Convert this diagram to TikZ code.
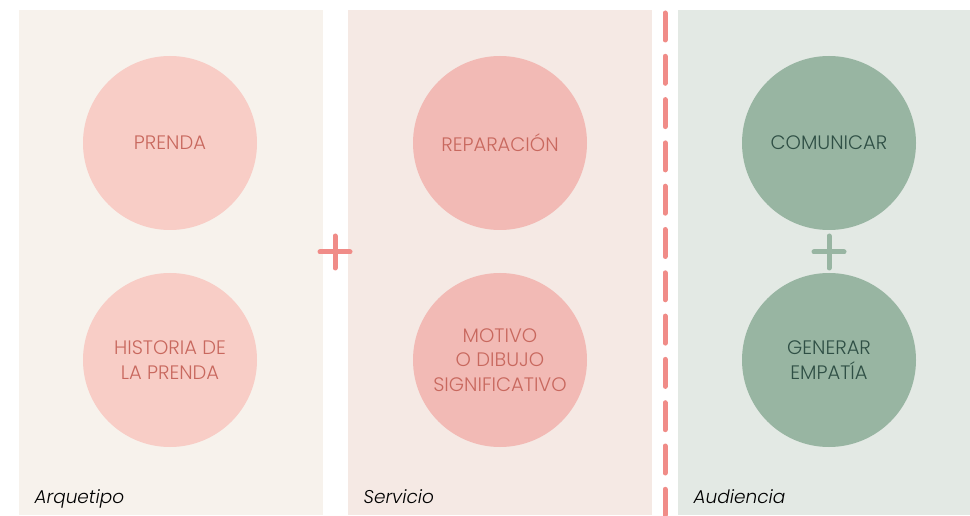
\documentclass[tikz,border=0pt]{standalone}
\usepackage{fontspec}
\setmainfont{Poppins}[UprightFont=* Light, ItalicFont=* Light Italic]
\usepackage{xcolor}
\usetikzlibrary{positioning}
\definecolor{bgA}{HTML}{F7F2EC}
\definecolor{bgB}{HTML}{F5E9E4}
\definecolor{bgC}{HTML}{E3E9E4}
\definecolor{circA}{HTML}{F8CDC6}
\definecolor{circB}{HTML}{F2BAB5}
\definecolor{circC}{HTML}{98B5A2}
\definecolor{txtRed}{HTML}{C8685E}
\definecolor{txtGreen}{HTML}{2F4F45}
\definecolor{dashRed}{HTML}{F08C88}
\definecolor{plusGreen}{HTML}{98B5A2}
\begin{document}
\begin{tikzpicture}[x=1pt,y=1pt,node distance=217pt,on grid,
  panel/.style={anchor=south west,inner sep=0pt,minimum height=505pt},
  bubble/.style={circle,minimum size=174pt,inner sep=0pt,align=center,
    font=\fontsize{19.5}{24.5}\selectfont},
  bubA/.style={bubble,fill=circA,text=txtRed},
  bubB/.style={bubble,fill=circB,text=txtRed},
  bubC/.style={bubble,fill=circC,text=txtGreen},
  tag/.style={anchor=base west,font=\fontsize{18.5}{20}\selectfont\itshape},
  plusline/.style={line width=5pt,line cap=round}]
  \useasboundingbox (0,0) rectangle (970,515);
  % columns
  \node[panel,fill=bgA,minimum width=304pt] (colA) at (19,0) {};
  \node[panel,fill=bgB,minimum width=304pt] (colB) at (348,0) {};
  \node[panel,fill=bgC,minimum width=292pt] (colC) at (678,0) {};
  % circles
  \node[bubA] (prenda) at (170,372) {PRENDA};
  \node[bubA] (historia) [below=of prenda] {HISTORIA DE\\LA PRENDA};
  \node[bubB] (reparacion) [right=330pt of prenda] {REPARACIÓN};
  \node[bubB] (motivo) [below=of reparacion] {MOTIVO\\O DIBUJO\\SIGNIFICATIVO};
  \node[bubC] (comunicar) [right=329pt of reparacion] {COMUNICAR};
  \node[bubC] (empatia) [below=of comunicar] {GENERAR\\EMPATÍA};
  % labels
  \node[tag] (tagA) at (31,12) {Arquetipo};
  \node[tag] (tagB) at (360,12) {Servicio};
  \node[tag] (tagC) at (690,12) {Audiencia};
  % plus signs
  \coordinate (plusA) at (335,263);
  \coordinate (plusB) at (829,263);
  \draw[plusline,dashRed] ([xshift=-15pt]plusA) -- ([xshift=15pt]plusA);
  \draw[plusline,dashRed] ([yshift=-16pt]plusA) -- ([yshift=16pt]plusA);
  \draw[plusline,plusGreen] ([xshift=-15pt]plusB) -- ([xshift=15pt]plusB);
  \draw[plusline,plusGreen] ([yshift=-16pt]plusB) -- ([yshift=16pt]plusB);
  % divider
  \coordinate (divTop) at (665,502);
  \coordinate (divBot) at (665,0);
  \draw[line width=5pt,line cap=round,dashRed,dash pattern=on 27pt off 16.3pt] (divTop) -- (divBot);
\end{tikzpicture}
\end{document}
